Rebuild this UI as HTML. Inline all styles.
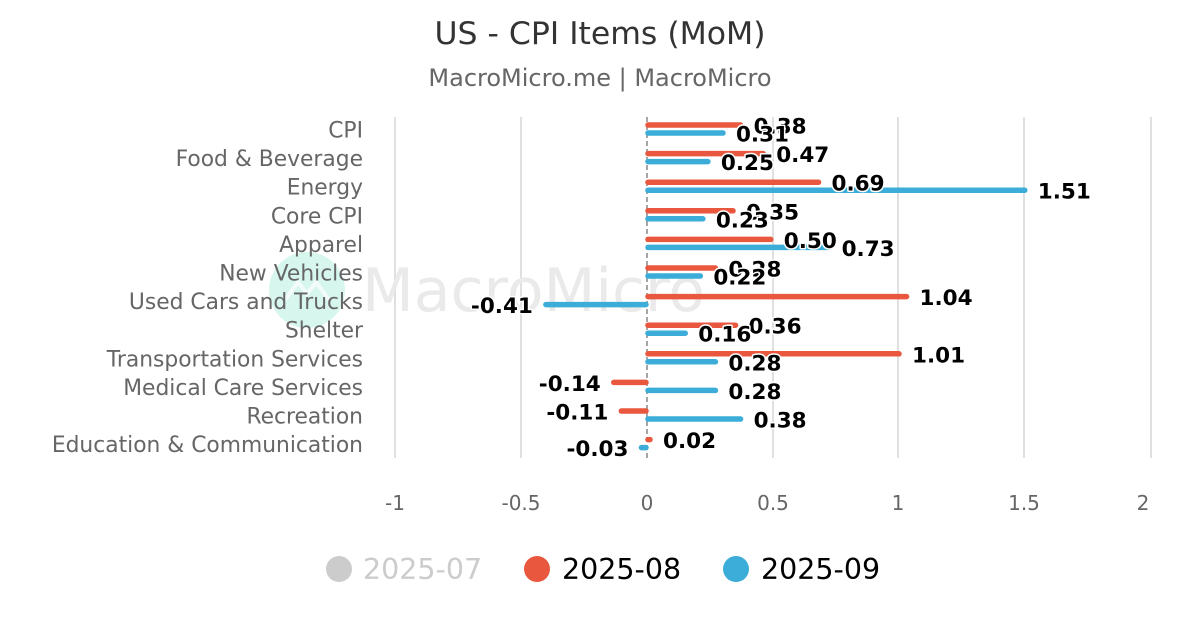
<!DOCTYPE html>
<html><head><meta charset="utf-8"><style>
html,body{margin:0;padding:0;background:#fff;}
svg{display:block;font-family:"DejaVu Sans","Liberation Sans",sans-serif;}
.cat{fill:#666;font-size:21.8px;text-anchor:end;dominant-baseline:central;}
.tick{fill:#666;font-size:20px;text-anchor:middle;}
.lbl{font-size:21.5px;font-weight:bold;fill:#000;stroke:#fff;stroke-width:3px;paint-order:stroke;stroke-linejoin:round;dominant-baseline:central;}
</style></head><body>
<svg width="1200" height="630" viewBox="0 0 1200 630">
<text x="600" y="44" text-anchor="middle" font-size="31.5" fill="#333">US - CPI Items (MoM)</text>
<text x="600" y="86" text-anchor="middle" font-size="24" fill="#666">MacroMicro.me | MacroMicro</text>
<g stroke="#e0e0e0" stroke-width="2">
<line x1="395" y1="117" x2="395" y2="458"/><line x1="521" y1="117" x2="521" y2="458"/>
<line x1="773" y1="117" x2="773" y2="458"/><line x1="898" y1="117" x2="898" y2="458"/>
<line x1="1024" y1="117" x2="1024" y2="458"/><line x1="1151" y1="117" x2="1151" y2="458"/>
</g>
<circle cx="307" cy="290" r="38" fill="#d6f6ee"/>
<path d="M285 300 L298 282 L307 294 L316 282 L329 300" stroke="#fff" stroke-width="4" fill="none" opacity="0.7"/>
<text x="362" y="311" font-size="60" fill="#eaeaea">MacroMicro</text>
<line x1="647" y1="117" x2="647" y2="458" stroke="#888" stroke-width="1.5" stroke-dasharray="5,3"/>
<g id="bars" stroke-linecap="round" stroke-width="5.5"></g>
<g id="cats"></g>
<g id="lbls"></g>
<g class="tick">
<text x="395" y="510">-1</text><text x="521" y="510">-0.5</text><text x="647" y="510">0</text>
<text x="773" y="510">0.5</text><text x="898" y="510">1</text><text x="1024" y="510">1.5</text><text x="1143" y="510">2</text>
</g>
<circle cx="339" cy="569" r="13" fill="#ccc"/><text x="363" y="579" font-size="28.5" fill="#ccc">2025-07</text>
<circle cx="537" cy="569" r="13" fill="#e9573f"/><text x="562" y="579" font-size="28.5" fill="#000">2025-08</text>
<circle cx="736" cy="569" r="13" fill="#3badd8"/><text x="761" y="579" font-size="28.5" fill="#000">2025-09</text>
<script>
var d=[["CPI",0.38,0.31],["Food & Beverage",0.47,0.25],["Energy",0.69,1.51],["Core CPI",0.35,0.23],["Apparel",0.50,0.73],["New Vehicles",0.28,0.22],["Used Cars and Trucks",1.04,-0.41],["Shelter",0.36,0.16],["Transportation Services",1.01,0.28],["Medical Care Services",-0.14,0.28],["Recreation",-0.11,0.38],["Education & Communication",0.02,-0.03]];
var ns="http://www.w3.org/2000/svg",B=document.getElementById("bars"),C=document.getElementById("cats"),L=document.getElementById("lbls");
function el(t,a,p,txt){var e=document.createElementNS(ns,t);for(var k in a)e.setAttribute(k,a[k]);if(txt!=null)e.textContent=txt;p.appendChild(e);return e;}
var z=647,s=251.5;
d.forEach(function(r,i){
 var yc=129+i*28.6;
 el("text",{x:363,y:yc+2,"class":"cat"},C,r[0]);
 [[r[1],yc-4,"#e9573f"],[r[2],yc+4,"#3badd8"]].forEach(function(b){
  var v=b[0],y=b[1],xe=z+v*s;
  var x1=v>=0?z+1:z-1, x2=v>=0?Math.max(xe-2,z+1):Math.min(xe+2,z-1);
  el("line",{x1:x1,y1:y,x2:x2,y2:y,stroke:b[2]},B);
  var t=v.toFixed(2);
  if(v>=0) el("text",{x:xe+11,y:y+2,"class":"lbl","text-anchor":"start"},L,t);
  else el("text",{x:xe-11,y:y+2,"class":"lbl","text-anchor":"end"},L,t);
 });
});
</script>
</svg>
</body></html>
